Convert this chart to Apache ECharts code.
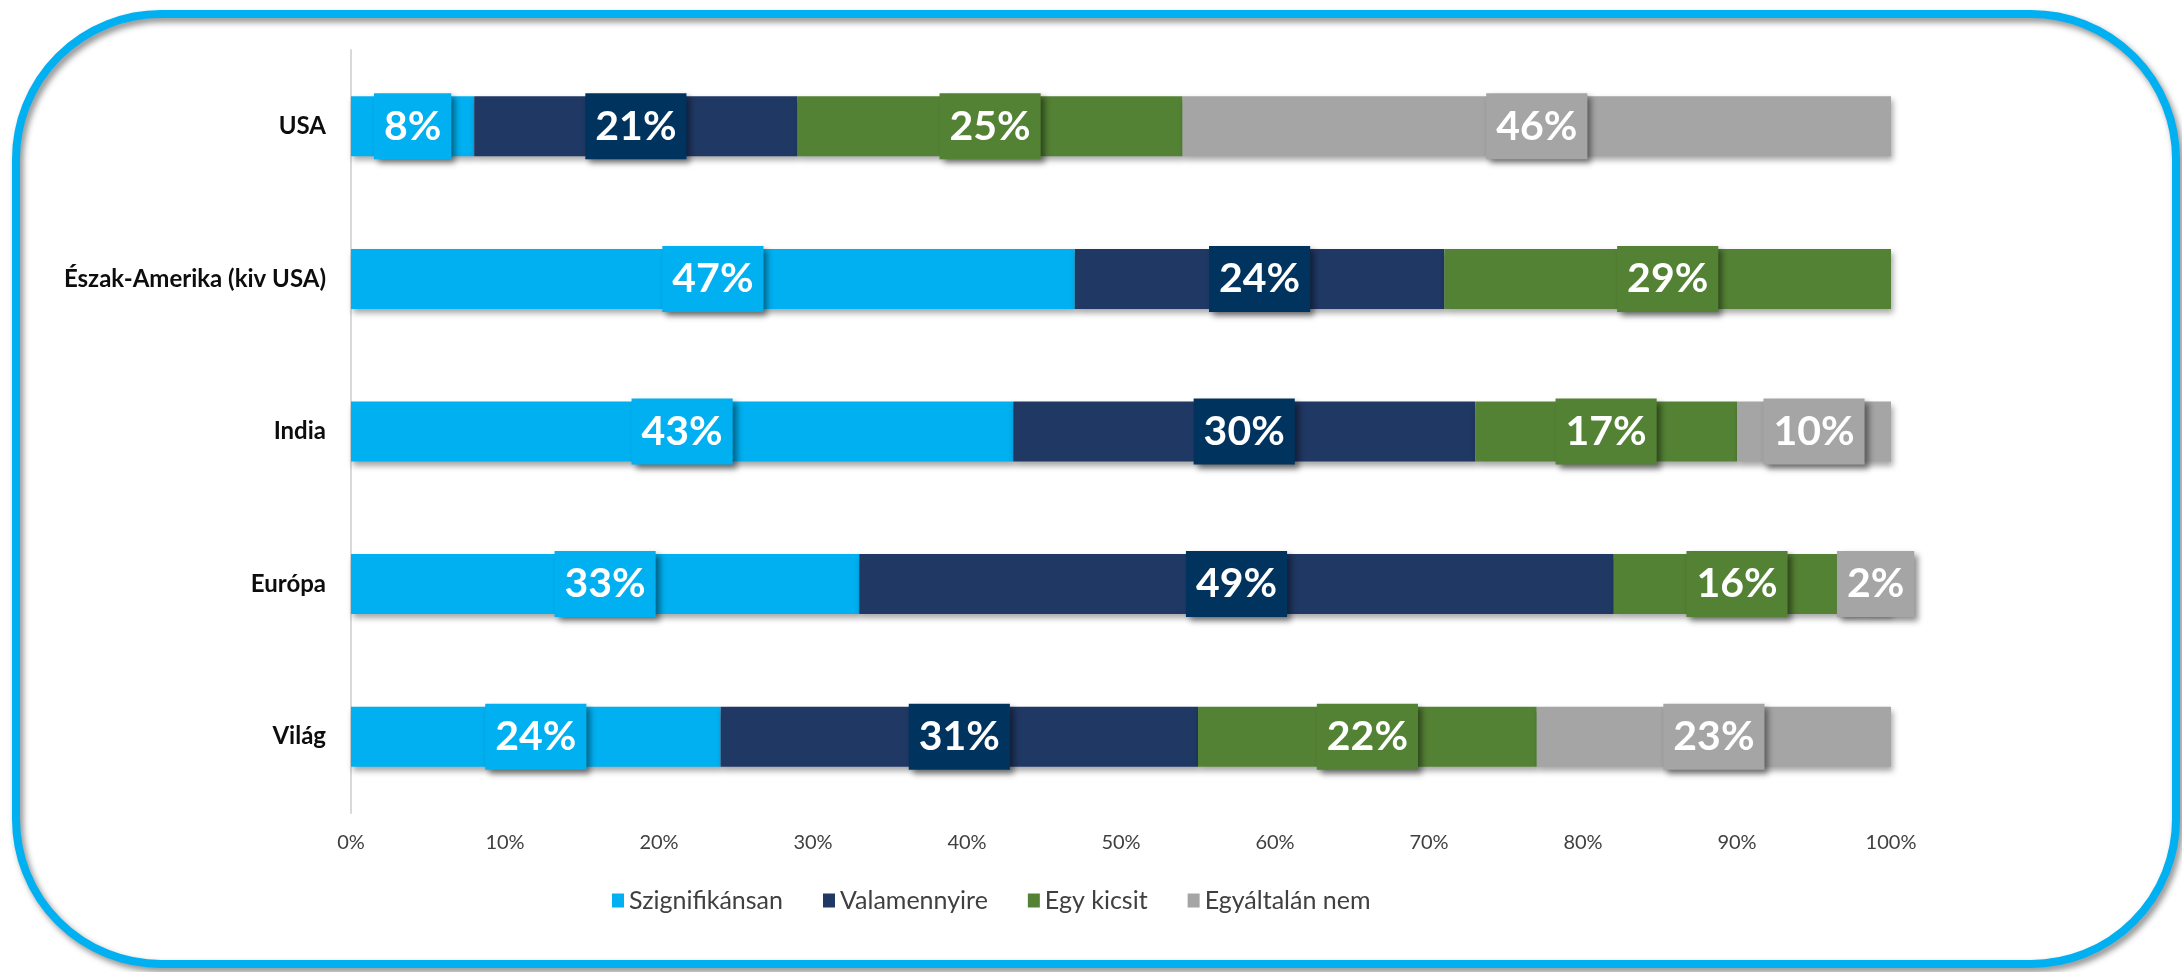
<!DOCTYPE html>
<html>
<head>
<meta charset="utf-8">
<script src="https://cdn.jsdelivr.net/npm/echarts@6/dist/echarts.min.js"></script>
<style>
html,body{margin:0;padding:0;background:#fff;}
#chart{width:2182px;height:972px;}
</style>
</head>
<body>
<div id="chart"></div>
<script>
const categories = ['USA', 'Észak-Amerika (kiv USA)', 'India', 'Európa', 'Világ'];
const seriesNames = ['Szignifikánsan', 'Valamennyire', 'Egy kicsit', 'Egyáltalán nem'];
const szignifikansan = [8, 47, 43, 33, 24];
const valamennyire = [21, 24, 30, 49, 31];
const egyKicsit = [25, 29, 17, 16, 22];
const egyaltalanNem = [46, 0, 10, 2, 23];
const xTicks = [0, 10, 20, 30, 40, 50, 60, 70, 80, 90, 100];

const colors = ['#00B0F0', '#203864', '#548235', '#A5A5A5'];
const labelBg = ['#00B0F0', '#00345F', '#548235', '#A5A5A5'];
const values = [szignifikansan, valamennyire, egyKicsit, egyaltalanNem];

const chart = echarts.init(document.getElementById('chart'));

const series = seriesNames.map((name, i) => ({
  name: name,
  type: 'bar',
  stack: 'total',
  barWidth: 60,
  data: values[i].map(v => v === 0 ? null : v),
  itemStyle: {
    color: colors[i],
    shadowBlur: 6,
    shadowColor: 'rgba(0,0,0,0.35)',
    shadowOffsetX: 2,
    shadowOffsetY: 4
  },
  label: {
    show: true,
    position: 'inside',
    formatter: '{c}%',
    color: '#fff',
    fontFamily: 'Lato',
    fontWeight: 'bold',
    fontSize: 41,
    lineHeight: 46,
    padding: [10, 10, 10, 10],
    backgroundColor: labelBg[i],
    shadowBlur: 6,
    shadowColor: 'rgba(0,0,0,0.45)',
    shadowOffsetX: 4,
    shadowOffsetY: 4
  },
  emphasis: { disabled: true }
}));

chart.setOption({
  animation: false,
  color: colors,
  graphic: [{
    type: 'rect',
    shape: { x: 16, y: 14, width: 2160, height: 950, r: 145 },
    style: {
      fill: 'none',
      stroke: '#00B0F0',
      lineWidth: 8,
      shadowBlur: 6,
      shadowColor: 'rgba(0,0,0,0.45)',
      shadowOffsetX: 3,
      shadowOffsetY: 4
    },
    z: -1
  }],
  grid: { left: 351, right: 291, top: 50, bottom: 159, containLabel: false },
  legend: {
    data: seriesNames,
    left: 607,
    top: 883,
    icon: 'rect',
    itemWidth: 12,
    itemHeight: 14,
    itemGap: 40,
    textStyle: { fontFamily: 'Lato', fontSize: 25, color: '#404040' }
  },
  xAxis: {
    type: 'value',
    min: xTicks[0],
    max: xTicks[xTicks.length - 1],
    interval: 10,
    axisLine: { show: false },
    axisTick: { show: false },
    splitLine: { show: false },
    axisLabel: {
      formatter: '{value}%',
      fontFamily: 'Lato',
      fontSize: 20,
      color: '#404040',
      margin: 20
    }
  },
  yAxis: {
    type: 'category',
    inverse: true,
    data: categories,
    axisLine: { show: true, lineStyle: { color: '#D9D9D9', width: 2 } },
    axisTick: { show: false },
    axisLabel: {
      fontFamily: 'Lato',
      fontWeight: 'bold',
      fontSize: 24,
      color: '#0D0D0D',
      margin: 25
    }
  },
  series: series
});
</script>
</body>
</html>
